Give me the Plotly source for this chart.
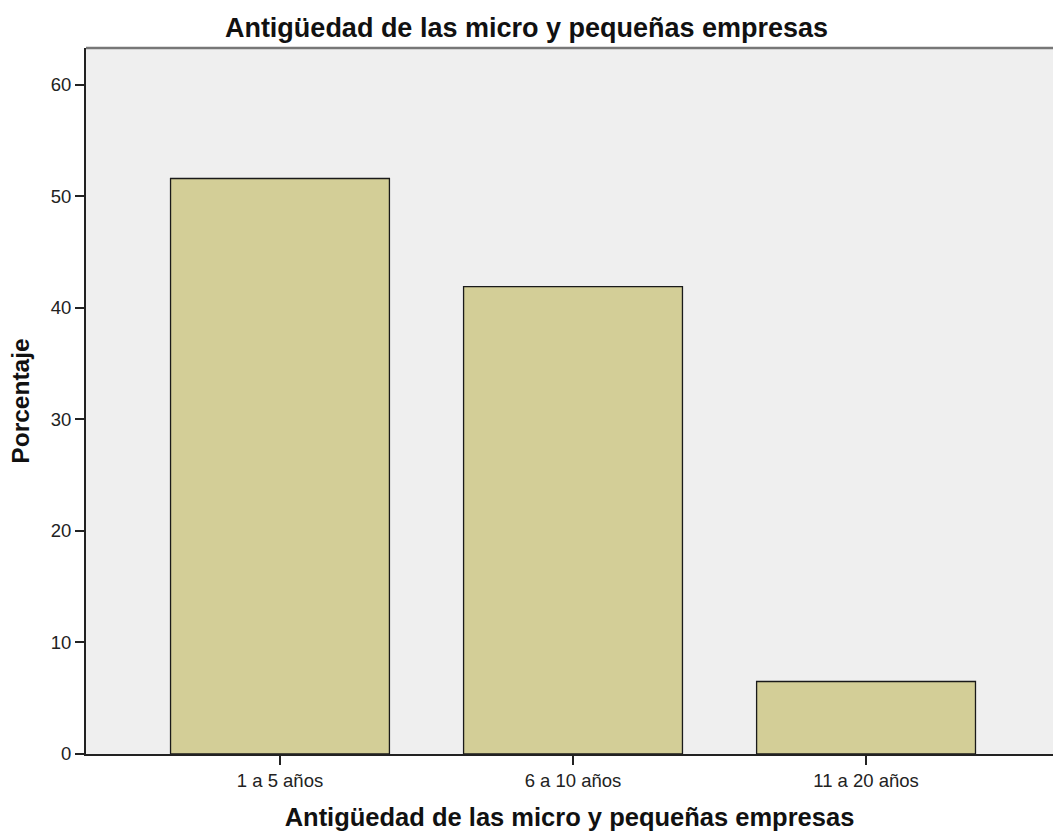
import plotly.graph_objects as go

categories = ["1 a 5 años", "6 a 10 años", "11 a 20 años"]
percentages = [51.6, 41.9, 6.5]
y_ticks = [0, 10, 20, 30, 40, 50, 60]

fig = go.Figure()
fig.add_trace(go.Bar(
    x=[0, 1, 2],
    y=percentages,
    width=0.747,
    marker=dict(color="#D3CE97", line=dict(color="#1a1a1a", width=1.3)),
    hoverinfo="skip",
))

font_family = "Liberation Sans, Arial, sans-serif"
fig.update_layout(
    width=1053, height=835,
    margin=dict(l=86, r=0, t=48, b=81),
    paper_bgcolor="white",
    plot_bgcolor="#EFEFEF",
    showlegend=False,
    title=dict(text="<b>Antigüedad de las micro y pequeñas empresas</b>",
               x=0.5, xanchor="center", y=0.967, yanchor="middle",
               font=dict(family=font_family, size=27, color="#111")),
    font=dict(family=font_family),
)
fig.update_xaxes(
    range=[-0.662, 2.638],
    tickvals=[0, 1, 2], ticktext=categories,
    ticks="outside", ticklen=9, tickwidth=2, tickcolor="#222",
    showline=True, linecolor="#222", linewidth=2,
    showgrid=False, zeroline=False,
    tickfont=dict(family=font_family, size=18.5, color="#222"),
    title=dict(text="<b>Antigüedad de las micro y pequeñas empresas</b>",
               font=dict(family=font_family, size=25.5, color="#111"), standoff=18),
)
fig.update_yaxes(
    range=[0, 63.3],
    tickvals=y_ticks,
    ticks="outside", ticklen=9, tickwidth=2, tickcolor="#222",
    showline=True, linecolor="#222", linewidth=2,
    showgrid=False, zeroline=False,
    tickfont=dict(family=font_family, size=18.5, color="#222"),
    title=dict(text="<b>Porcentaje</b>",
               font=dict(family=font_family, size=24.5, color="#111"), standoff=14),
)
fig.add_shape(type="line", xref="paper", yref="paper", x0=0, x1=1, y0=1, y1=1,
              line=dict(color="#777", width=2.5))
fig.write_html("out.html", config={"displayModeBar": False},
               post_script="document.body.style.margin='0px';")
